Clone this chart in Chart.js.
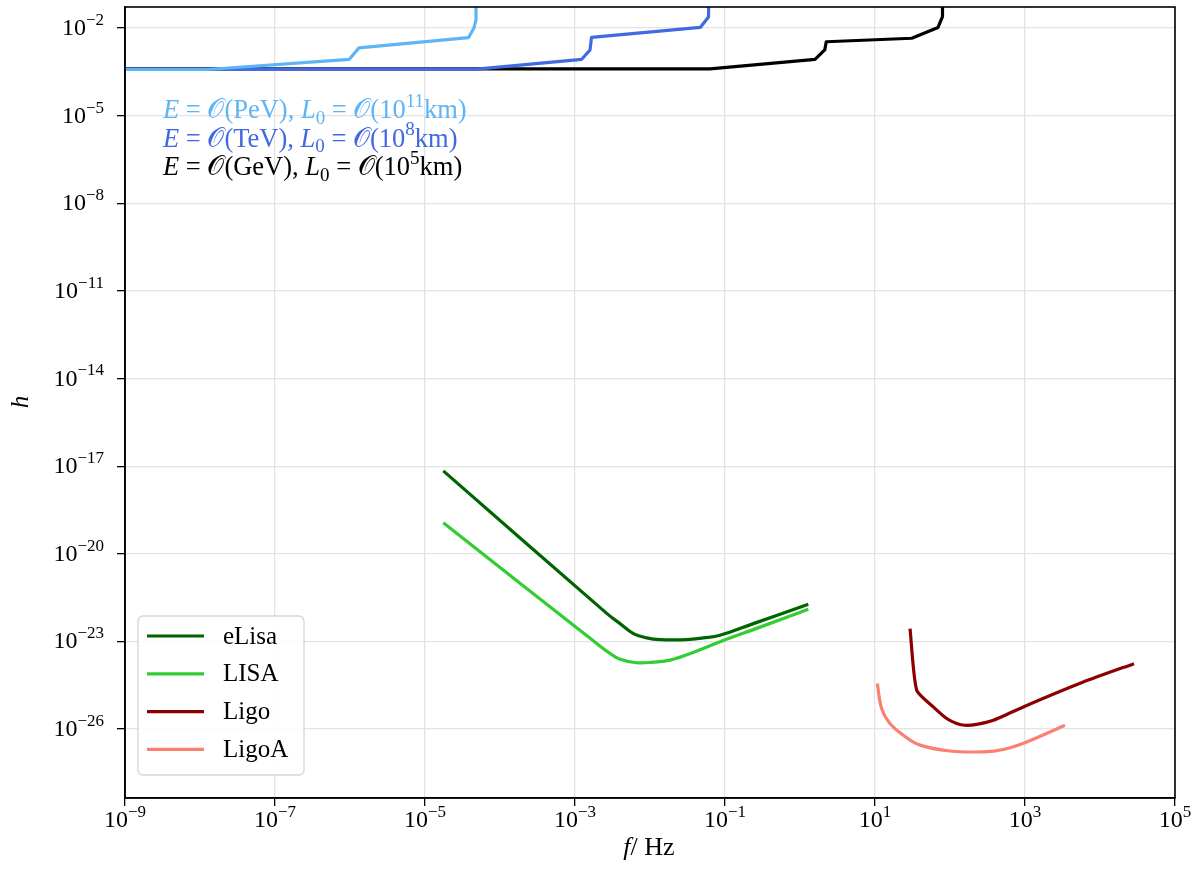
<!DOCTYPE html>
<html>
<head>
<meta charset="utf-8">
<script src="https://cdn.jsdelivr.net/npm/chart.js@4.4.1/dist/chart.umd.min.js"></script>
<style>
  html, body { margin: 0; padding: 0; background: #fff; }
  #wrap { width: 1204px; height: 869px; }
</style>
</head>
<body>
<div id="wrap"><canvas id="chart" width="1204" height="869"></canvas></div>
<script>
// all values are log10 of the value
const xTickExp = [-9, -7, -5, -3, -1, 1, 3, 5];
const yTickExp = [-26, -23, -20, -17, -14, -11, -8, -5, -2];

// top step lines (sensitivity for different E / L0)
const pevLogF = [-9, -7.9, -6.01, -5.88, -4.42, -4.35, -4.32, -4.32];
const pevLogH = [-3.42, -3.42, -3.07, -2.68, -2.33, -2.01, -1.73, 0];
const tevLogF = [-9, -4.31, -2.91, -2.8, -2.78, -1.33, -1.22, -1.21];
const tevLogH = [-3.41, -3.41, -3.07, -2.75, -2.32, -1.98, -1.62, 0];
const gevLogF = [-9, -1.2, 0.2, 0.33, 0.35, 1.49, 1.84, 1.9, 1.9];
const gevLogH = [-3.40, -3.40, -3.07, -2.75, -2.47, -2.35, -1.98, -1.61, 0];

// detector curves
const elisaLogF = [-4.756, -2.577, -2.4, -2.222, -2.044, -1.867, -1.511, -1.29, -1.067, -0.622, 0.111];
const elisaLogH = [-17.16, -22.04, -22.39, -22.73, -22.88, -22.94, -22.94, -22.88, -22.79, -22.39, -21.73];
const lisaLogF = [-4.756, -2.71, -2.533, -2.4, -2.177, -1.956, -1.733, -1.4, -1.067, -0.533, 0.111];
const lisaLogH = [-18.94, -23.07, -23.41, -23.61, -23.73, -23.71, -23.64, -23.35, -23.01, -22.51, -21.9];
const ligoLogF = [1.467, 1.556, 1.777, 1.956, 2.089, 2.2, 2.356, 2.577, 3.023, 3.777, 4.453];
const ligoLogH = [-22.56, -24.67, -25.24, -25.64, -25.81, -25.87, -25.84, -25.70, -25.19, -24.39, -23.76];
const ligoALogF = [1.031, 1.089, 1.2, 1.378, 1.6, 2.0, 2.444, 2.711, 3.023, 3.533];
const ligoALogH = [-24.44, -25.30, -25.81, -26.21, -26.55, -26.75, -26.78, -26.70, -26.44, -25.87];

const toPoints = (fs, hs) => fs.map((f, i) => ({ x: Math.pow(10, f), y: Math.pow(10, hs[i]) }));

const SERIF = '"Liberation Serif", "Times New Roman", serif';

function line(label, fs, hs, color, order, tension, legend) {
    return {
        label: label,
        data: toPoints(fs, hs),
        borderColor: color,
        backgroundColor: color,
        borderWidth: 3.2,
        pointRadius: 0,
        showLine: true,
        fill: false,
        order: order,
        tension: tension,
        borderJoinStyle: 'round',
        inLegend: legend
    };
}

// rich text: parts of {t, k} where k is 'it', 'sup', 'sub' or undefined
function partFont(k, size) {
    const fs = (k === 'sup' || k === 'sub') ? Math.round(size * 0.7) : size;
    return (k === 'it' ? 'italic ' : '') + fs + 'px ' + SERIF;
}
function richWidth(ctx, parts, size) {
    let w = 0;
    parts.forEach(p => { ctx.font = partFont(p.k, size); w += ctx.measureText(p.t).width; });
    return w;
}
function drawRich(ctx, x, y, parts, size, color) {
    let cx = x;
    ctx.fillStyle = color;
    ctx.textBaseline = 'alphabetic';
    ctx.textAlign = 'left';
    parts.forEach(p => {
        ctx.font = partFont(p.k, size);
        const dy = p.k === 'sup' ? -size * 0.42 : (p.k === 'sub' ? size * 0.22 : 0);
        ctx.fillText(p.t, cx, y + dy);
        cx += ctx.measureText(p.t).width;
    });
}
const powParts = e => [{ t: '10' }, { t: (e < 0 ? '\u2212' : '') + Math.abs(e), k: 'sup' }];

const notes = [
    { color: '#5EB5F6', parts: [{t:'E',k:'it'},{t:' = '},{t:'\uD835\uDCAA'},{t:'(PeV), '},{t:'L',k:'it'},{t:'0',k:'sub'},{t:' = '},{t:'\uD835\uDCAA'},{t:'(10'},{t:'11',k:'sup'},{t:'km)'}] },
    { color: '#4169E1', parts: [{t:'E',k:'it'},{t:' = '},{t:'\uD835\uDCAA'},{t:'(TeV), '},{t:'L',k:'it'},{t:'0',k:'sub'},{t:' = '},{t:'\uD835\uDCAA'},{t:'(10'},{t:'8',k:'sup'},{t:'km)'}] },
    { color: '#000000', parts: [{t:'E',k:'it'},{t:' = '},{t:'\uD835\uDCAA'},{t:'(GeV), '},{t:'L',k:'it'},{t:'0',k:'sub'},{t:' = '},{t:'\uD835\uDCAA'},{t:'(10'},{t:'5',k:'sup'},{t:'km)'}] }
];

const decorations = {
    id: 'decorations',
    afterDraw(chart) {
        const ctx = chart.ctx;
        const a = chart.chartArea;
        const xs = chart.scales.x, ys = chart.scales.y;
        ctx.save();
        // frame
        ctx.strokeStyle = '#000';
        ctx.lineWidth = 1.6;
        ctx.strokeRect(a.left, a.top, a.right - a.left, a.bottom - a.top);

        // tick labels
        xTickExp.forEach(e => {
            const px = xs.getPixelForValue(Math.pow(10, e));
            const parts = powParts(e);
            const w = richWidth(ctx, parts, 24);
            drawRich(ctx, px - w / 2, a.bottom + 29, parts, 24, '#000');
        });
        yTickExp.forEach(e => {
            const py = ys.getPixelForValue(Math.pow(10, e));
            const parts = powParts(e);
            const w = richWidth(ctx, parts, 24);
            drawRich(ctx, 104 - w, py + 7, parts, 24, '#000');
        });

        // axis titles
        const xt = [{ t: 'f', k: 'it' }, { t: '/ Hz' }];
        const xw = richWidth(ctx, xt, 26);
        drawRich(ctx, 649 - xw / 2, 855, xt, 26, '#000');
        ctx.save();
        ctx.translate(28, 402);
        ctx.rotate(-Math.PI / 2);
        ctx.font = 'italic 25px ' + SERIF;
        ctx.textAlign = 'center';
        ctx.fillStyle = '#000';
        ctx.fillText('h', 0, 0);
        ctx.restore();

        // annotations
        notes.forEach((n, i) => drawRich(ctx, 163, 118 + i * 28.5, n.parts, 26.5, n.color));

        // legend
        const items = chart.data.datasets.filter(d => d.inLegend);
        const bx = 138, by = 616, bw = 166, bh = 159;
        ctx.beginPath();
        ctx.roundRect(bx, by, bw, bh, 5);
        ctx.fillStyle = 'rgba(255,255,255,0.85)';
        ctx.fill();
        ctx.strokeStyle = '#d6d6d6';
        ctx.lineWidth = 1.3;
        ctx.stroke();
        items.forEach((d, i) => {
            const y = 636 + i * 37.8;
            ctx.strokeStyle = d.borderColor;
            ctx.lineWidth = 3.2;
            ctx.beginPath();
            ctx.moveTo(147, y);
            ctx.lineTo(204, y);
            ctx.stroke();
            ctx.fillStyle = '#000';
            ctx.font = '25px ' + SERIF;
            ctx.textAlign = 'left';
            ctx.textBaseline = 'middle';
            ctx.fillText(d.label, 223, y + 1);
        });
        ctx.restore();
    }
};

new Chart(document.getElementById('chart').getContext('2d'), {
    type: 'scatter',
    data: {
        datasets: [
            line('PeV', pevLogF, pevLogH, '#5EB5F6', 1, 0, false),
            line('TeV', tevLogF, tevLogH, '#4169E1', 2, 0, false),
            line('GeV', gevLogF, gevLogH, '#000000', 3, 0, false),
            line('eLisa', elisaLogF, elisaLogH, '#006400', 4, 0.4, true),
            line('LISA', lisaLogF, lisaLogH, '#32CD32', 5, 0.4, true),
            line('Ligo', ligoLogF, ligoLogH, '#8B0000', 6, 0.2, true),
            line('LigoA', ligoALogF, ligoALogH, '#FA8072', 7, 0.4, true)
        ]
    },
    options: {
        responsive: false,
        animation: false,
        layout: { padding: { top: 7, right: 29, left: 0, bottom: 0 } },
        plugins: { legend: { display: false }, tooltip: { enabled: false } },
        scales: {
            x: {
                type: 'logarithmic',
                min: 1e-9,
                max: 1e5,
                afterBuildTicks: s => { s.ticks = xTickExp.map(e => ({ value: Math.pow(10, e) })); },
                afterFit: s => { s.height = 71; },
                ticks: { display: false },
                grid: { color: '#e3e3e3', lineWidth: 1.3, tickColor: '#000', tickLength: 8, tickWidth: 1.3 },
                border: { color: '#000', width: 1.6 }
            },
            y: {
                type: 'logarithmic',
                min: Math.pow(10, -28.36),
                max: Math.pow(10, -1.28),
                afterBuildTicks: s => { s.ticks = yTickExp.map(e => ({ value: Math.pow(10, e) })); },
                afterFit: s => { s.width = 125; },
                ticks: { display: false },
                grid: { color: '#e3e3e3', lineWidth: 1.3, tickColor: '#000', tickLength: 8, tickWidth: 1.3 },
                border: { color: '#000', width: 1.6 }
            }
        }
    },
    plugins: [decorations]
});
</script>
</body>
</html>
